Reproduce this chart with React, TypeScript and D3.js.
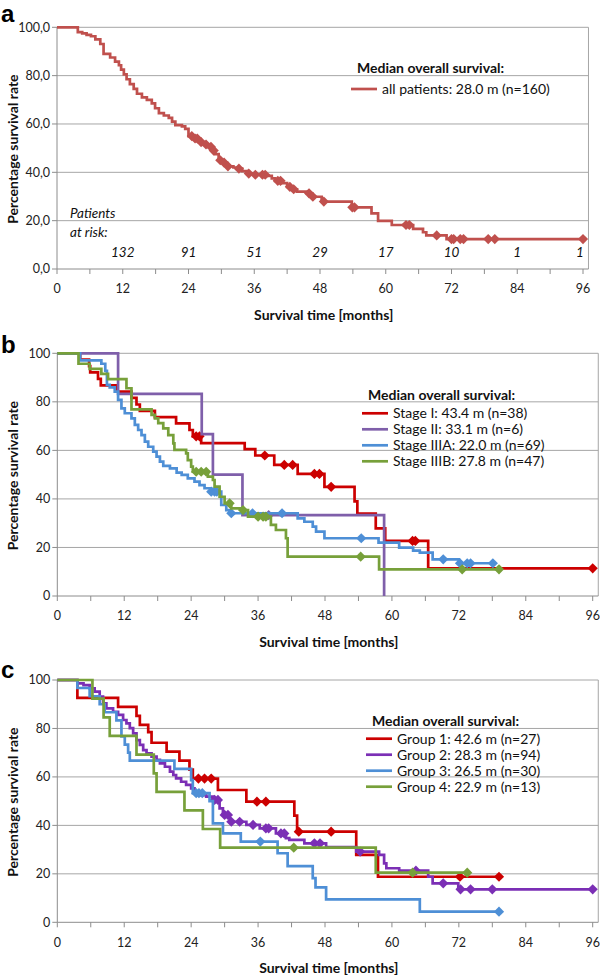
import React from 'react';
import * as d3 from 'd3';

// ---- data (months, % surviving) ----
const xTicks = [0, 12, 24, 36, 48, 60, 72, 84, 96];
const xMinor = [6, 18, 30, 42, 54, 66, 78, 90];
const yTicks = [0, 20, 40, 60, 80, 100];

const allT = [0, 3.8, 4.6, 5.4, 6.2, 7.0, 7.9, 8.5, 9.7, 10.6, 11.3, 11.7, 12.2, 12.7, 13.3, 14.0, 14.6, 15.5, 16.4, 17.3, 17.9, 18.6, 19.5, 20.4, 21.0, 21.6, 22.8, 23.4, 24.0, 24.9, 25.9, 26.8, 27.7, 28.3, 28.9, 29.5, 30.1, 31.0, 32.2, 32.8, 33.8, 34.7, 35.9, 38.3, 39.2, 39.8, 41.1, 42.0, 42.9, 43.8, 45.6, 46.5, 48.3, 53.8, 57.4, 58.6, 61.1, 65.0, 66.8, 67.4, 71.1];
const allS = [100, 98.0, 97.5, 96.9, 96.3, 95.0, 93.1, 89.0, 87.5, 85.8, 84.3, 82.5, 80.5, 78.5, 76.5, 74.5, 72.5, 71.0, 70.0, 68.5, 66.5, 64.5, 63.5, 62.5, 61.0, 59.5, 59.0, 58.0, 55.0, 54.0, 52.5, 51.5, 50.5, 49.0, 47.5, 45.0, 44.0, 42.5, 42.0, 41.5, 40.5, 39.5, 39.0, 38.5, 37.5, 36.5, 35.5, 34.0, 33.0, 32.0, 31.3, 29.9, 27.9, 25.5, 23.0, 19.9, 18.2, 16.6, 15.2, 13.9, 12.4];
const allCens = [24.6, 25.2, 25.6, 26.3, 27.2, 28.1, 28.6, 29.8, 30.5, 31.2, 33.2, 35.0, 36.2, 37.5, 38.0, 40.3, 40.8, 42.5, 43.2, 46.0, 46.7, 48.7, 53.9, 54.3, 63.7, 64.3, 69.3, 72.0, 72.4, 73.6, 74.2, 78.7, 79.9, 96];
const riskMonths = [12, 24, 36, 48, 60, 72, 84, 96];
const riskCounts = [132, 91, 51, 29, 17, 10, 1, 1];

const st1T = [0, 4.1, 5.7, 5.9, 7.3, 7.8, 10.6, 13.3, 14.2, 14.8, 17.5, 21.3, 23.7, 24.3, 25.8, 33.6, 35.5, 38.9, 43.1, 47.9, 53.3, 53.8, 57.1, 58.8, 66.5];
const st1S = [100, 97.4, 94.7, 92.1, 89.5, 86.8, 84.2, 81.6, 78.9, 76.3, 73.7, 71.1, 68.4, 65.8, 63.0, 60.5, 57.9, 54.0, 50.3, 45.0, 39.0, 34.0, 27.9, 22.7, 11.4];
const st1C = [24.9, 25.5, 37.2, 40.7, 42.2, 46.1, 47.0, 49.1, 63.7, 64.2, 96];

const st2T = [0, 10.9, 25.9, 27.9, 33.2, 58.6];
const st2S = [100, 83.3, 66.7, 50.0, 33.3, 0];
const st2C = [37.9];

const st3aT = [0, 4.1, 7.9, 8.6, 8.9, 9.4, 10.3, 10.9, 11.5, 12.1, 13.3, 13.9, 14.5, 15.1, 15.7, 16.3, 17.2, 17.8, 18.4, 19.0, 20.2, 21.4, 22.3, 23.4, 24.6, 25.5, 26.4, 27.6, 29.4, 30.3, 30.9, 43.1, 44.3, 45.8, 46.4, 47.9, 57.6, 61.3, 63.8, 65.0, 67.3, 72.0];
const st3aS = [100, 97.1, 95.7, 92.8, 87.0, 86.0, 84.2, 80.8, 77.3, 75.3, 73.2, 70.5, 68.4, 66.3, 63.6, 61.5, 59.5, 57.4, 55.4, 53.6, 52.6, 50.8, 49.9, 48.5, 47.1, 45.7, 44.4, 43.0, 37.5, 35.4, 34.1, 32.0, 30.6, 28.6, 26.5, 23.8, 22.0, 19.9, 18.7, 17.9, 15.1, 13.5];
const st3aC = [27.6, 28.2, 28.6, 31.2, 35.0, 40.3, 54.5, 69.2, 72.2, 73.5, 74.1, 78.1];

const st3bT = [0, 3.8, 5.8, 7.9, 9.1, 12.4, 13.3, 16.9, 17.5, 18.1, 19.0, 19.9, 20.8, 21.0, 23.1, 23.4, 24.0, 24.3, 27.0, 27.9, 28.2, 29.1, 30.0, 31.2, 33.0, 34.2, 38.3, 39.2, 41.0, 41.3, 57.7];
const st3bS = [100, 95.7, 93.6, 91.5, 89.4, 85.6, 76.9, 74.6, 73.2, 71.2, 69.1, 66.3, 62.9, 60.2, 58.8, 56.0, 53.3, 51.2, 49.2, 47.8, 45.1, 40.9, 38.2, 36.1, 35.4, 32.7, 29.3, 27.2, 23.8, 16.2, 11.0];
const st3bC = [24.9, 25.8, 26.7, 30.9, 33.3, 36.0, 36.9, 37.4, 54.4, 72.6, 79.2];

const g1T = [0, 3.6, 10.9, 14.2, 14.8, 16.3, 16.9, 19.6, 21.9, 23.7, 24.3, 28.8, 33.9, 42.5, 43.0, 53.6, 57.5];
const g1S = [100, 92.6, 88.9, 85.2, 81.5, 78.5, 74.1, 70.4, 66.7, 63.0, 59.3, 54.6, 49.8, 44.0, 37.4, 27.8, 18.8];
const g1C = [25.3, 26.4, 27.6, 35.8, 37.4, 43.3, 49.1, 72.2, 79.2];

const g2T = [0, 3.6, 4.7, 5.8, 6.7, 7.6, 8.2, 8.8, 10.0, 10.9, 11.8, 12.4, 13.0, 13.6, 14.2, 14.8, 15.4, 16.0, 16.9, 17.8, 18.4, 19.3, 20.2, 20.8, 21.3, 22.2, 23.1, 24.0, 24.6, 25.5, 26.7, 27.9, 29.1, 29.7, 30.9, 33.9, 36.3, 39.2, 41.0, 41.6, 44.3, 48.2, 53.6, 57.7, 58.6, 59.0, 61.3, 66.5, 67.3, 71.9];
const g2S = [100, 98.6, 97.9, 96.6, 95.2, 93.1, 90.4, 88.3, 86.9, 85.6, 83.5, 82.1, 80.1, 78.0, 75.2, 73.2, 71.1, 69.7, 68.4, 67.0, 65.6, 64.2, 62.2, 60.8, 59.4, 58.0, 56.7, 55.3, 53.9, 52.5, 51.9, 50.5, 47.0, 44.3, 41.5, 40.2, 38.8, 36.7, 34.7, 34.0, 32.6, 31.0, 29.2, 27.8, 24.3, 22.3, 21.3, 18.8, 16.1, 13.6];
const g2C = [28.2, 28.8, 30.0, 30.6, 31.2, 32.7, 35.1, 37.4, 37.9, 40.1, 40.7, 46.1, 47.1, 54.3, 64.3, 69.2, 72.3, 74.1, 78.0, 96];

const g3T = [0, 3.6, 5.8, 7.6, 8.5, 10.6, 11.5, 12.1, 12.7, 13.0, 21.0, 24.0, 24.3, 27.3, 27.9, 29.7, 32.9, 39.5, 41.3, 45.8, 46.3, 48.2, 65.0];
const g3S = [100, 96.7, 93.3, 90.0, 86.7, 83.3, 76.7, 73.3, 70.0, 66.7, 63.3, 58.7, 53.3, 50.0, 40.8, 36.7, 33.3, 28.5, 23.2, 18.2, 14.4, 9.5, 4.4];
const g3C = [24.9, 25.4, 26.0, 36.4, 79.2];

const g4T = [0, 6.3, 8.3, 9.4, 14.2, 17.3, 17.8, 22.8, 26.1, 29.2, 57.1];
const g4S = [100, 92.3, 84.6, 76.9, 69.2, 61.5, 53.8, 46.2, 38.5, 30.8, 20.5];
const g4C = [42.4, 63.7, 73.5];

type Series = { name: string; color: string; t: number[]; s: number[]; cens: number[]; end: number };

const panelA: Series[] = [
  { name: 'all patients: 28.0 m (n=160)', color: '#C0504D', t: allT, s: allS, cens: allCens, end: 96 },
];
const panelB: Series[] = [
  { name: 'Stage I: 43.4 m (n=38)', color: '#CC0000', t: st1T, s: st1S, cens: st1C, end: 96 },
  { name: 'Stage II: 33.1 m (n=6)', color: '#7F5FAA', t: st2T, s: st2S, cens: st2C, end: 58.6 },
  { name: 'Stage IIIA: 22.0 m (n=69)', color: '#4E8FD6', t: st3aT, s: st3aS, cens: st3aC, end: 78.3 },
  { name: 'Stage IIIB: 27.8 m (n=47)', color: '#77A03A', t: st3bT, s: st3bS, cens: st3bC, end: 79.2 },
];
const panelC: Series[] = [
  { name: 'Group 1: 42.6 m (n=27)', color: '#CC0000', t: g1T, s: g1S, cens: g1C, end: 79.2 },
  { name: 'Group 2: 28.3 m (n=94)', color: '#7B2FB5', t: g2T, s: g2S, cens: g2C, end: 96 },
  { name: 'Group 3: 26.5 m (n=30)', color: '#4E8FD6', t: g3T, s: g3S, cens: g3C, end: 79.2 },
  { name: 'Group 4: 22.9 m (n=13)', color: '#77A03A', t: g4T, s: g4S, cens: g4C, end: 73.5 },
];

const FONT = 'Lato, "Open Sans", sans-serif';
const GRID = '#A6A6A6';
const AXIS = '#8C8C8C';

type PanelProps = {
  letter: string;
  letterY: number;
  top: number;
  bottom: number;
  x0: number;
  x96: number;
  yFmt: (v: number) => string;
  series: Series[];
  legendX: number; // left of legend line
  legendTitleY: number;
  legendRowY: number;
  risk?: boolean;
};

const survAt = (sr: Series, c: number) => {
  let v = sr.s[0];
  sr.t.forEach((ti, i) => {
    if (ti <= c) v = sr.s[i];
  });
  return v;
};

const Panel = ({ letter, letterY, top, bottom, x0, x96, yFmt, series, legendX, legendTitleY, legendRowY, risk }: PanelProps) => {
  const x = d3.scaleLinear().domain([0, 96]).range([x0, x96]);
  const y = d3.scaleLinear().domain([0, 100]).range([bottom, top]);
  const right = x(97);
  const line = d3
    .line<[number, number]>()
    .x((d) => x(d[0]))
    .y((d) => y(d[1]))
    .curve(d3.curveStepAfter);
  const diamond = d3.symbol(d3.symbolSquare, 52)();

  return (
    <g fontFamily={FONT}>
      <text x={1} y={letterY} fontFamily="Arial, 'Liberation Sans', sans-serif" fontWeight="bold" fontSize={24}>
        {letter}
      </text>
      {/* grid + frame */}
      {yTicks.slice(1).map((v) => (
        <line key={v} x1={x0} x2={right} y1={y(v)} y2={y(v)} stroke={GRID} strokeWidth={1} />
      ))}
      <line x1={right} x2={right} y1={top} y2={bottom} stroke={GRID} strokeWidth={1} />
      <line x1={x0} x2={x0} y1={top} y2={bottom} stroke={AXIS} strokeWidth={1} />
      <line x1={x0} x2={right} y1={bottom} y2={bottom} stroke={AXIS} strokeWidth={1} />
      {yTicks.map((v) => (
        <g key={v}>
          <line x1={x0 - 5} x2={x0} y1={y(v)} y2={y(v)} stroke={AXIS} />
          <text x={x0 - 7} y={y(v)} dy="0.35em" textAnchor="end" fontSize={12.5} fill="#222">
            {yFmt(v)}
          </text>
        </g>
      ))}
      {xTicks.concat(xMinor).map((v) => (
        <line key={v} x1={x(v)} x2={x(v)} y1={bottom} y2={bottom + 5} stroke={AXIS} />
      ))}
      {xTicks.map((v) => (
        <text key={v} x={x(v)} y={bottom + 20} dy="0.35em" textAnchor="middle" fontSize={12.5} fill="#222">
          {v}
        </text>
      ))}
      <text x={(x0 + right) / 2 + 1} y={bottom + 46} dy="0.35em" textAnchor="middle" fontSize={14} fontWeight="bold" fill="#111">
        Survival time [months]
      </text>
      <text
        transform={`translate(13,${(top + bottom) / 2 + 1}) rotate(-90)`}
        textAnchor="middle"
        dy="0.35em"
        fontSize={14}
        fontWeight="bold"
        fill="#111"
      >
        Percentage survival rate
      </text>
      {/* curves */}
      {series.map((sr) => {
        const pts: [number, number][] = sr.t.map((ti, i) => [ti, sr.s[i]] as [number, number]);
        pts.push([sr.end, sr.s[sr.s.length - 1]]);
        return (
          <g key={sr.name}>
            <path d={line(pts) ?? ''} fill="none" stroke={sr.color} strokeWidth={2.7} />
            {sr.cens.map((c, i) => (
              <path key={i} d={diamond ?? ''} transform={`translate(${x(c)},${y(survAt(sr, c))}) rotate(45)`} fill={sr.color} />
            ))}
          </g>
        );
      })}
      {/* legend */}
      <text x={legendX + 6} y={legendTitleY} dy="0.35em" fontSize={14} fontWeight="bold" fill="#111">
        Median overall survival:
      </text>
      {series.map((sr, i) => (
        <g key={sr.name}>
          <line x1={legendX} x2={legendX + 26} y1={legendRowY + i * 16} y2={legendRowY + i * 16} stroke={sr.color} strokeWidth={2.7} />
          <text x={legendX + 31} y={legendRowY + i * 16} dy="0.35em" fontSize={14} fill="#111">
            {sr.name}
          </text>
        </g>
      ))}
      {risk && (
        <g fontStyle="italic" fontSize={13.5} fill="#111">
          <text x={70} y={213} dy="0.35em">Patients</text>
          <text x={70} y={232} dy="0.35em">at risk:</text>
          {riskMonths.map((m, i) => (
            <text key={m} x={m === 96 ? x(m) - 3 : x(m)} y={252} dy="0.35em" textAnchor="middle">
              {riskCounts[i]}
            </text>
          ))}
        </g>
      )}
    </g>
  );
};

const commaFmt = (v: number) => d3.format('.1f')(v).replace('.', ',');
const intFmt = (v: number) => String(v);

export default function App() {
  return (
    <div style={{ position: 'absolute', left: 0, top: 0, background: '#fff' }}>
      <svg width={600} height={976} style={{ display: 'block' }}>
        <rect width={600} height={976} fill="#fff" />
        <Panel letter="a" letterY={22} top={27.3} bottom={269} x0={57} x96={583} yFmt={commaFmt} series={panelA}
          legendX={351} legendTitleY={68} legendRowY={89} risk />
        <Panel letter="b" letterY={353} top={353.3} bottom={596} x0={57.3} x96={592.7} yFmt={intFmt} series={panelB}
          legendX={362} legendTitleY={395} legendRowY={413.3} />
        <Panel letter="c" letterY={678} top={680} bottom={922.3} x0={57.3} x96={592.7} yFmt={intFmt} series={panelC}
          legendX={366} legendTitleY={721} legendRowY={738.7} />
      </svg>
    </div>
  );
}
